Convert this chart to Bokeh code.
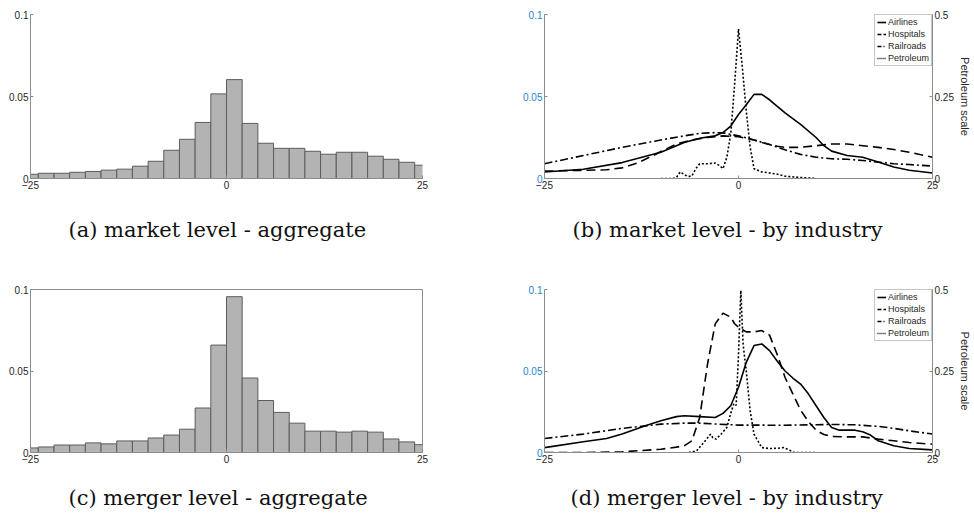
from bokeh.plotting import figure
from bokeh.models import (Range1d, LinearAxis, FixedTicker, Title, Legend, LegendItem,
                          NumeralTickFormatter)
from bokeh.layouts import column, row
from bokeh.embed import file_html
from bokeh.resources import INLINE

# ---------------- data ----------------
bin_left = list(range(-26, 25, 2))          # bin edges, width 2
bin_width = 2
hist_market = [0.0026, 0.0032, 0.0032, 0.0038, 0.0043, 0.0051, 0.0057, 0.0075, 0.0105,
               0.0172, 0.0239, 0.0342, 0.0516, 0.0603, 0.0336, 0.0215, 0.0184, 0.0184,
               0.0166, 0.0148, 0.0160, 0.0160, 0.0136, 0.0117, 0.0099, 0.0081]
hist_merger = [0.0028, 0.0034, 0.0046, 0.0046, 0.0059, 0.0053, 0.0071, 0.0071, 0.0089,
               0.0107, 0.0143, 0.0273, 0.0659, 0.0956, 0.0457, 0.0319, 0.0246, 0.0180,
               0.0131, 0.0131, 0.0125, 0.0131, 0.0125, 0.0083, 0.0065, 0.0048]

# market level densities
air_mkt_x = [-25, -20, -15, -10, -7, -5, -3, -2, -1, 0, 1, 2, 3, 4, 5, 6, 8, 10, 11, 12, 14, 16, 18, 20, 22, 25]
air_mkt_y = [0.004, 0.0056, 0.0097, 0.016, 0.022, 0.0245, 0.026, 0.028, 0.032, 0.039, 0.045, 0.0513,
             0.0513, 0.048, 0.044, 0.040, 0.033, 0.025, 0.020, 0.0167, 0.014, 0.013, 0.010, 0.007,
             0.005, 0.0034]
hosp_mkt_x = [-25, -20, -17, -15, -13, -11, -10, -8, -6, -4, -2, 0, 1, 2, 3, 4, 5, 6, 8, 10, 12, 14, 16, 18, 20, 22, 25]
hosp_mkt_y = [0.0045, 0.005, 0.0053, 0.0065, 0.0095, 0.014, 0.0165, 0.021, 0.0235, 0.025, 0.026,
              0.0255, 0.0245, 0.0235, 0.022, 0.0207, 0.0197, 0.019, 0.019, 0.020, 0.021, 0.021,
              0.020, 0.019, 0.0177, 0.016, 0.013]
rail_mkt_x = [-25, -20, -15, -10, -7, -5, -3, -2, 0, 2, 4, 6, 8, 10, 12, 14, 16, 18, 20, 22, 25]
rail_mkt_y = [0.009, 0.014, 0.019, 0.0235, 0.026, 0.0275, 0.028, 0.0278, 0.026, 0.0235, 0.0207,
              0.0175, 0.0147, 0.013, 0.012, 0.0117, 0.011, 0.010, 0.009, 0.0085, 0.0076]
pet_mkt_x = [-10, -8.5, -8, -7.5, -7, -6.5, -6, -5.5, -5, -4, -3, -2.5, -2, -1.5, -1, -0.5, 0, 0.5,
             1, 1.5, 2, 3, 4, 5, 6, 8, 10]
pet_mkt_y = [0, 0, 0.003, 0.02, 0.012, 0.006, 0.008, 0.03, 0.045, 0.045, 0.047, 0.04, 0.03, 0.065,
             0.136, 0.287, 0.456, 0.337, 0.206, 0.096, 0.03, 0.02, 0.017, 0.013, 0.007, 0.003, 0]

# merger level densities
air_mrg_x = [-25, -20, -17, -15, -12, -10, -8, -7, -5, -3, -2, -1, 0, 1, 2, 3, 4, 5, 6, 7, 8, 9, 10,
             11, 12, 13, 15, 16, 17, 18, 20, 22, 25]
air_mrg_y = [0.003, 0.0066, 0.0086, 0.0113, 0.0164, 0.0195, 0.022, 0.0225, 0.022, 0.0215, 0.024,
             0.0287, 0.040, 0.0553, 0.0656, 0.0666, 0.0625, 0.056, 0.050, 0.0457, 0.042, 0.036,
             0.0287, 0.0215, 0.0154, 0.0137, 0.0137, 0.0127, 0.0107, 0.0072, 0.0041, 0.0025, 0.0016]
hosp_mrg_x = [-25, -20, -15, -10, -8, -7, -6, -5, -4, -3, -2, -1, -0.5, 0, 1, 2, 3, 4, 5, 6, 7, 8,
              9, 10, 11, 12, 14, 16, 18, 20, 22, 25]
hosp_mrg_y = [0, 0, 0.0004, 0.002, 0.0033, 0.0041, 0.0072, 0.0215, 0.054, 0.0789, 0.0855, 0.083,
              0.079, 0.0768, 0.074, 0.074, 0.0748, 0.072, 0.060, 0.046, 0.036, 0.026, 0.019,
              0.0137, 0.011, 0.0098, 0.0096, 0.0096, 0.0082, 0.0072, 0.0061, 0.0051]
rail_mrg_x = [-25, -20, -15, -10, -7, -5, -3, 0, 3, 5, 10, 12, 15, 18, 20, 22, 25]
rail_mrg_y = [0.0086, 0.0113, 0.0148, 0.0174, 0.018, 0.018, 0.0175, 0.0168, 0.0168, 0.0167, 0.017,
              0.0172, 0.017, 0.016, 0.0148, 0.0133, 0.0113]
pet_mrg_x = [-6.4, -5.4, -4.5, -3.6, -3.3, -2.9, -2.3, -1.5, -1, -0.6, -0.3, 0, 0.3, 0.6, 1, 1.5,
             2, 3, 4, 5, 5.8, 6.5, 7.2, 10]
pet_mrg_y = [0, 0.005, 0.03, 0.056, 0.045, 0.041, 0.055, 0.077, 0.12, 0.15, 0.145, 0.30, 0.497,
             0.33, 0.25, 0.128, 0.056, 0.015, 0.012, 0.013, 0.015, 0.008, 0, 0]

series_names = ["Airlines", "Hospitals", "Railroads", "Petroleum"]
x_ticks = [-25, 0, 25]
y_ticks = [0, 0.05, 0.1]
pet_ticks = [0, 0.25, 0.5]
captions = ["(a) market level - aggregate", "(b) market level - by industry",
            "(c) merger level - aggregate", "(d) merger level - by industry"]
right_label = "Petroleum scale"

# ---------------- styles ----------------
AX = "#8c8c8c"
TXT = "#262626"
BLUE = "#1f84cf"
TICK_FONT = "Liberation Sans"
CAP_FONT = "DejaVu Serif"
DASHES = ["solid", "9 5", "8 3 2 3", "2 2"]
LEG_DASHES = ["solid", "4 2", "4 2 1 2", "1 1"]


def style_axis(ax, label_color=TXT):
    ax.axis_line_color = AX
    ax.major_tick_line_color = AX
    ax.minor_tick_line_color = None
    ax.major_tick_in = 3
    ax.major_tick_out = 0
    ax.major_label_standoff = 2
    ax.major_label_text_font = TICK_FONT
    ax.major_label_text_font_size = "10px"
    ax.major_label_text_color = label_color


def make_fig(width, height, mbl, mbr, mbt, mbb, caption, cap_offset, cap_gap,
             left_color=TXT, outline=False):
    p = figure(width=width, height=height, x_range=Range1d(-25, 25), y_range=Range1d(0, 0.1),
               output_backend="svg", toolbar_location=None,
               min_border_left=mbl, min_border_right=mbr, min_border_top=mbt,
               min_border_bottom=mbb)
    p.grid.visible = False
    p.outline_line_color = AX if outline else None
    p.background_fill_color = "white"
    p.border_fill_color = "white"
    p.xaxis.ticker = FixedTicker(ticks=x_ticks)
    p.yaxis.ticker = FixedTicker(ticks=y_ticks)
    p.yaxis.formatter = NumeralTickFormatter(format="0.[00]")
    style_axis(p.xaxis[0])
    style_axis(p.yaxis[0], left_color)
    # blank spacer panel between the x axis and the caption
    p.add_layout(Title(text=" ", text_font_size="1px", standoff=cap_gap), "below")
    t = Title(text=caption, align="left", text_font=CAP_FONT, text_font_size="21px",
              text_font_style="normal", text_color="#111111", offset=cap_offset,
              standoff=0)
    p.add_layout(t, "below")
    return p


def add_hist(p, heights):
    p.quad(left=bin_left, right=[b + bin_width for b in bin_left], top=heights, bottom=0,
           fill_color="#b3b3b3", line_color="#5c5c5c", line_width=1)


def add_density(p, data):
    # "pet" = right axis scale; "swatch" = a range far above the data, so the
    # legend-swatch copies of the series stay out of view
    p.extra_y_ranges = {"pet": Range1d(0, 0.5), "swatch": Range1d(10, 11)}
    ra = LinearAxis(y_range_name="pet", ticker=FixedTicker(ticks=pet_ticks),
                    formatter=NumeralTickFormatter(format="0.[00]"))
    style_axis(ra)
    p.add_layout(ra, "right")
    rt = Title(text=right_label, align="center", text_font=TICK_FONT, text_font_size="11px",
               text_font_style="normal", text_color=TXT, standoff=4)
    p.add_layout(rt, "right")
    sw = []
    for i, (xs, ys) in enumerate(data):
        kw = {"y_range_name": "pet"} if i == 3 else {}
        p.line(xs, ys, line_color="black", line_width=1.6, line_dash=DASHES[i], **kw)
        sw.append(p.line(xs, ys, line_color="black", line_width=1.6,
                         line_dash=LEG_DASHES[i], y_range_name="swatch"))
    leg = Legend(items=[LegendItem(label=n, renderers=[r]) for n, r in zip(series_names, sw)],
                 location="top_right", margin=0, padding=2, spacing=2,
                 glyph_width=9, glyph_height=10, label_height=10, label_standoff=2,
                 label_text_font=TICK_FONT, label_text_font_size="9px",
                 label_text_color=TXT, border_line_color=AX, border_line_width=1,
                 background_fill_color="white", background_fill_alpha=1.0)
    p.add_layout(leg)


p1 = make_fig(520, 245, 30, 98, 14, 67, captions[0], 38, 21)
add_hist(p1, hist_market)

p2 = make_fig(454, 245, 24, 41, 13, 67, captions[1], 28, 21, left_color=BLUE)
add_density(p2, [(air_mkt_x, air_mkt_y), (hosp_mkt_x, hosp_mkt_y),
                 (rail_mkt_x, rail_mkt_y), (pet_mkt_x, pet_mkt_y)])

p3 = make_fig(520, 276, 30, 98, 42, 69, captions[2], 38, 15, outline=True)
add_hist(p3, hist_merger)

p4 = make_fig(454, 276, 24, 41, 44, 69, captions[3], 26, 15, left_color=BLUE)
add_density(p4, [(air_mrg_x, air_mrg_y), (hosp_mrg_x, hosp_mrg_y),
                 (rail_mrg_x, rail_mrg_y), (pet_mrg_x, pet_mrg_y)])

layout = column(row(p1, p2), row(p3, p4))
open("out.html", "w").write(file_html(layout, INLINE))
